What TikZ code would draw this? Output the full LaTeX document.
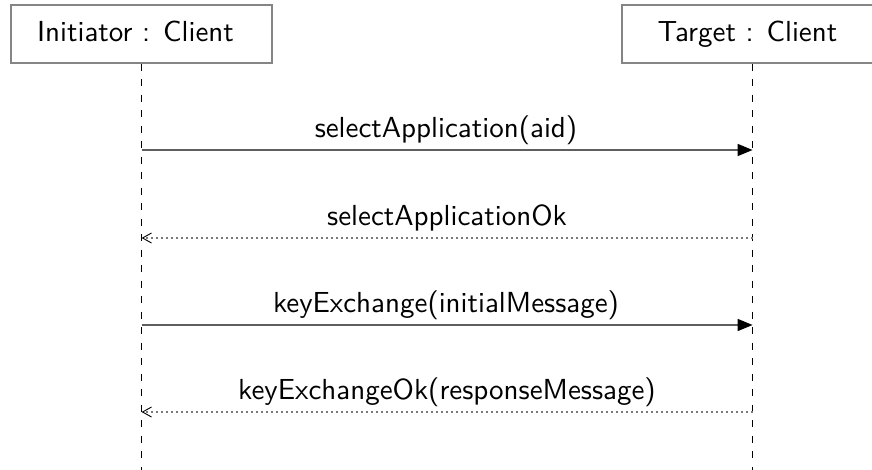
\documentclass[tikz,border=0pt]{standalone}
\usepackage{fontspec}
\setsansfont{lmsans10-regular}[Extension=.otf]
\usetikzlibrary{arrows.meta}
\definecolor{boxgray}{HTML}{858585}
\definecolor{msggray}{HTML}{5E5E5E}
\definecolor{replygray}{HTML}{7A7A7A}
\begin{document}
\begin{tikzpicture}[x=1pt, y=-1pt,
  font=\sffamily\fontsize{29}{35}\selectfont,
  actor/.style={draw=boxgray, line width=1.3pt, minimum width=261pt,
    minimum height=58pt, inner sep=0pt},
  actorname/.style={anchor=base, inner sep=0pt},
  lifeline/.style={draw=black, line width=1.1pt, dash pattern=on 7pt off 8.5pt},
  call/.style={draw=msggray, line width=1.5pt,
    -{Triangle[length=15pt, width=12pt, color=black]}},
  reply/.style={draw=replygray, line width=1.3pt, dash pattern=on 1.3pt off 3.7pt,
    -{Straight Barb[length=9pt, width=10pt, color=black, line width=0.9pt]}},
  msglabel/.style={anchor=base, inner sep=0pt}]
  \useasboundingbox (0,0) rectangle (872,470);
  \clip (0,0) rectangle (872,470);

  % participants
  \node[actor] (init) at (141.6,34) {};
  \node[actor] (targ) at (752.6,34) {};
  \node[actorname] (initname) at (135.5,41.7) {Initiator : Client};
  \node[actorname] (targname) at (747.5,41.7) {Target : Client};

  % lifelines
  \coordinate (iend) at (141.6,470);
  \coordinate (tend) at (752.6,470);
  \draw[lifeline] (init.south) -- (iend);
  \draw[lifeline] (targ.south) -- (tend);

  % message anchor points on the lifelines
  \foreach \yy/\n in {150/1, 238/2, 325/3, 412/4} {
    \coordinate (i\n) at (141.6,\yy);
    \coordinate (t\n) at (752.6,\yy);
  }

  % messages
  \draw[call]  (i1) -- (t1);
  \draw[reply] (t2) -- (i2);
  \draw[call]  (i3) -- (t3);
  \draw[reply] (t4) -- (i4);

  % message labels
  \node[msglabel] (m1) at (446,137.5) {selectApplication(aid)};
  \node[msglabel] (m2) at (447,225.5) {selectApplicationOk};
  \node[msglabel] (m3) at (446,312.5) {keyExchange(initialMessage)};
  \node[msglabel] (m4) at (447,399.5) {keyExchangeOk(responseMessage)};
\end{tikzpicture}
\end{document}
